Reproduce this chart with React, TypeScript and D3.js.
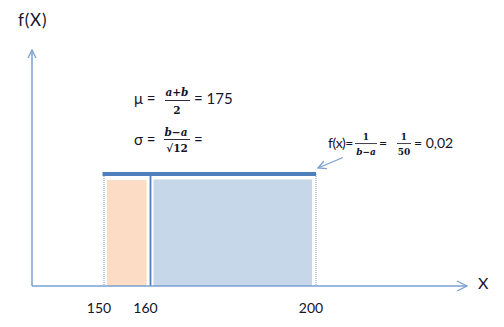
import React from "react";
import * as d3 from "d3";

const tickValues = [150, 160, 200];
const tickLabels = ["150", "160", "200"];
const lowerBound = 150; // a
const upperBound = 200; // b
const cutoff = 160;
const density = 0.02;
const yLabel = "f(X)";
const xLabel = "X";

const AX = "#7a9fd0";
const BAR = "#4f7fbd";
const TXT = "#14142a";

export default function App() {
  const W = 504, H = 327;
  const x = d3.scaleLinear().domain([150, 160, 200]).range([104, 150.5, 316]);
  const y = d3.scaleLinear().domain([0, density]).range([286, 174]);
  const y0 = y(0);
  const yTop = y(density);
  const font = "Lato, 'Open Sans', sans-serif";
  const math = "'DejaVu Serif', 'Liberation Serif', serif";

  return (
    <svg width={W} height={H} style={{ position: "absolute", left: 0, top: 0, background: "#fff" }}>
      <defs>
        <marker id="open" viewBox="0 0 10 10" refX="9" refY="5" markerWidth="10" markerHeight="10" markerUnits="userSpaceOnUse" orient="auto">
          <path d="M1,1 L9,5 L1,9" fill="none" stroke={AX} strokeWidth={1.3} />
        </marker>
        <marker id="open2" viewBox="0 0 12 12" refX="11" refY="6" markerWidth="12" markerHeight="12" markerUnits="userSpaceOnUse" orient="auto">
          <path d="M1,1 L11,6 L1,11" fill="none" stroke={AX} strokeWidth={1.3} />
        </marker>
      </defs>

      {/* fills */}
      <rect x={x(lowerBound) + 3} y={yTop + 6} width={x(cutoff) - x(lowerBound) - 7} height={y0 - yTop - 6} fill="#fcdcc4" />
      <rect x={x(cutoff) + 3} y={yTop + 5.5} width={x(upperBound) - x(cutoff) - 7} height={y0 - yTop - 5.5} fill="#c6d7ea" />

      {/* dotted bounds */}
      {[lowerBound, upperBound].map((v) => (
        <line key={v} x1={x(v)} x2={x(v)} y1={yTop} y2={y0} stroke={AX} strokeWidth={1} strokeDasharray="1,1" />
      ))}
      {/* cutoff line */}
      <line x1={x(cutoff)} x2={x(cutoff)} y1={yTop} y2={y0} stroke={BAR} strokeWidth={1.8} />

      {/* density top bar */}
      <line x1={x(lowerBound) - 1.5} x2={x(upperBound)} y1={yTop} y2={yTop} stroke={BAR} strokeWidth={4} />

      {/* axes */}
      <line x1={32} x2={467} y1={y0} y2={y0} stroke={AX} strokeWidth={1.5} markerEnd="url(#open2)" />
      <line x1={32} x2={32} y1={y0} y2={50} stroke={AX} strokeWidth={1.5} markerEnd="url(#open)" />

      {/* tick labels */}
      {tickValues.map((v, i) => (
        <text key={v} x={x(v) - 5} y={313} textAnchor="middle" fontFamily={font} fontSize={14} fill={TXT}>
          {tickLabels[i]}
        </text>
      ))}

      <text x={18} y={26} fontFamily={font} fontSize={17} letterSpacing={0.8} fill={TXT}>{yLabel}</text>
      <text x={478} y={289} fontFamily={font} fontSize={16} fill={TXT}>{xLabel}</text>

      {/* mu formula */}
      <g fontFamily={font} fill={TXT}>
        <text x={134} y={104} fontSize={15}>μ =</text>
        <text x={177} y={96} fontSize={10.5} fontFamily={math} fontStyle="italic" textAnchor="middle" fontWeight="bold">a+b</text>
        <line x1={165} x2={190} y1={100.5} y2={100.5} stroke={TXT} strokeWidth={0.9} />
        <text x={177} y={114} fontSize={10.5} fontFamily={math} textAnchor="middle" fontWeight="bold">2</text>
        <text x={194} y={104} fontSize={15}>= 175</text>

        <text x={134} y={145} fontSize={15}>σ =</text>
        <text x={176} y={136} fontSize={10.5} fontFamily={math} fontStyle="italic" textAnchor="middle" fontWeight="bold">b−a</text>
        <line x1={164} x2={190} y1={139.5} y2={139.5} stroke={TXT} strokeWidth={0.9} />
        <text x={177} y={151.5} fontSize={10.5} fontFamily={math} textAnchor="middle" fontWeight="bold">√12</text>
        <text x={194} y={145} fontSize={15}>=</text>
      </g>

      {/* f(x) formula */}
      <g fontFamily={font} fill={TXT}>
        <text x={328} y={148} fontSize={14} letterSpacing={-0.5}>f(x)=</text>
        <text x={366} y={140} fontSize={9} fontFamily={math} textAnchor="middle" fontWeight="bold">1</text>
        <line x1={355} x2={377} y1={143.5} y2={143.5} stroke={TXT} strokeWidth={0.8} />
        <text x={366} y={155} fontSize={9} fontFamily={math} fontStyle="italic" textAnchor="middle" fontWeight="bold">b−a</text>
        <text x={379} y={148} fontSize={14}>=</text>
        <text x={404} y={140} fontSize={9} fontFamily={math} textAnchor="middle" fontWeight="bold">1</text>
        <line x1={397} x2={411} y1={143.5} y2={143.5} stroke={TXT} strokeWidth={0.8} />
        <text x={404} y={155} fontSize={9} fontFamily={math} textAnchor="middle" fontWeight="bold">50</text>
        <text x={414} y={148} fontSize={14}>= 0,02</text>
      </g>
      <line x1={343} x2={318} y1={157.5} y2={168} stroke={AX} strokeWidth={1.3} markerEnd="url(#open)" />
    </svg>
  );
}
